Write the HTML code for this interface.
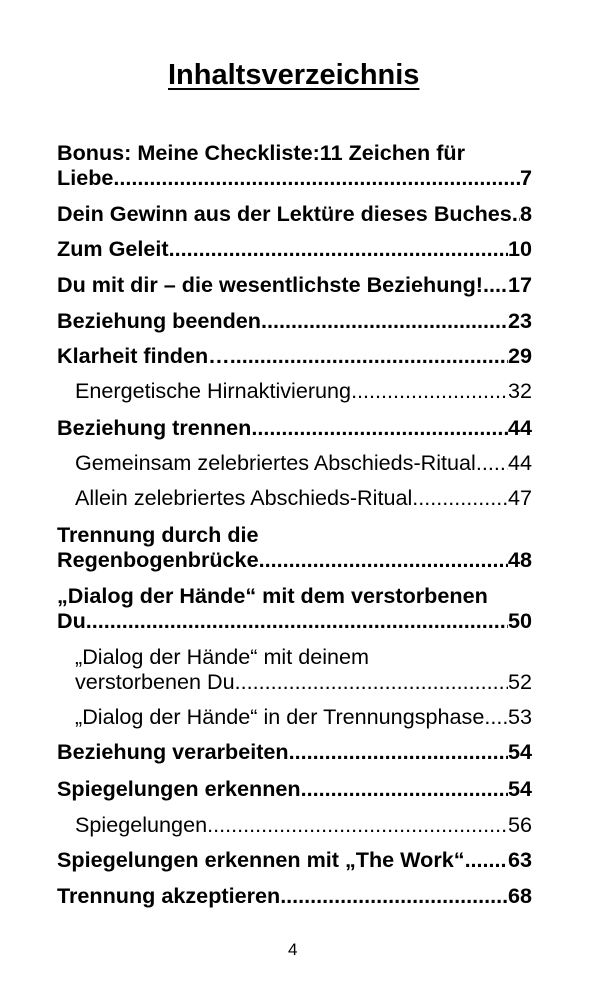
<!DOCTYPE html>
<html><head><meta charset="utf-8"><style>
body{margin:0;width:600px;height:992px;background:#fff;position:relative;font-family:"Liberation Sans",Arial,sans-serif;color:#000;overflow:hidden}
.t{position:absolute;left:168px;top:57px;font-weight:bold;font-size:29px;text-decoration:underline;text-decoration-thickness:2px;text-underline-offset:4px;line-height:36px;white-space:nowrap}
.l{position:absolute;left:57px;width:475px;display:flex;font-size:21.6px;line-height:25px;white-space:nowrap}
.b{font-weight:bold}
.s{left:75px;width:457px;font-size:21.6px}
.d{flex:1;overflow:hidden;}
.d::after{content:"....................................................................................................................................................................................................";}
.p{position:absolute;left:57px;font-size:21.6px;line-height:25px;white-space:nowrap}
.pg{position:absolute;left:288px;top:940px;font-size:17px}
</style></head><body>
<div class="t">Inhaltsverzeichnis</div>
<div class="p b" style="top:140px">Bonus: Meine Checkliste:11 Zeichen für</div>
<div class="l b" style="top:165px"><span>Liebe</span><span class="d"></span><span>7</span></div>
<div class="l b" style="top:201px"><span>Dein Gewinn aus der Lektüre dieses Buches.</span><span class="d"></span><span>8</span></div>
<div class="l b" style="top:236px"><span>Zum Geleit </span><span class="d"></span><span>10</span></div>
<div class="l b" style="top:272px"><span>Du mit dir – die wesentlichste Beziehung! </span><span class="d"></span><span>17</span></div>
<div class="l b" style="top:308px"><span>Beziehung beenden </span><span class="d"></span><span>23</span></div>
<div class="l b" style="top:343px"><span>Klarheit finden… </span><span class="d"></span><span>29</span></div>
<div class="l s" style="top:378px"><span>Energetische Hirnaktivierung </span><span class="d"></span><span>32</span></div>
<div class="l b" style="top:415px"><span>Beziehung trennen</span><span class="d"></span><span>44</span></div>
<div class="l s" style="top:450px"><span>Gemeinsam zelebriertes Abschieds-Ritual </span><span class="d"></span><span>44</span></div>
<div class="l s" style="top:485px"><span>Allein zelebriertes Abschieds-Ritual</span><span class="d"></span><span>47</span></div>
<div class="p b" style="top:522px">Trennung durch die</div>
<div class="l b" style="top:547px"><span>Regenbogenbrücke </span><span class="d"></span><span>48</span></div>
<div class="p b" style="top:583px">„Dialog der Hände“ mit dem verstorbenen</div>
<div class="l b" style="top:608px"><span>Du </span><span class="d"></span><span>50</span></div>
<div class="p" style="top:644px;left:75px">„Dialog der Hände“ mit deinem</div>
<div class="l s" style="top:669px"><span>verstorbenen Du </span><span class="d"></span><span>52</span></div>
<div class="l s" style="top:704px"><span>„Dialog der Hände“ in der Trennungsphase </span><span class="d"></span><span>53</span></div>
<div class="l b" style="top:739px"><span>Beziehung verarbeiten</span><span class="d"></span><span>54</span></div>
<div class="l b" style="top:776px"><span>Spiegelungen erkennen</span><span class="d"></span><span>54</span></div>
<div class="l s" style="top:812px"><span>Spiegelungen </span><span class="d"></span><span>56</span></div>
<div class="l b" style="top:847px"><span>Spiegelungen erkennen mit „The Work“ </span><span class="d"></span><span>63</span></div>
<div class="l b" style="top:883px"><span>Trennung akzeptieren</span><span class="d"></span><span>68</span></div>
<div class="pg">4</div>
</body></html>
